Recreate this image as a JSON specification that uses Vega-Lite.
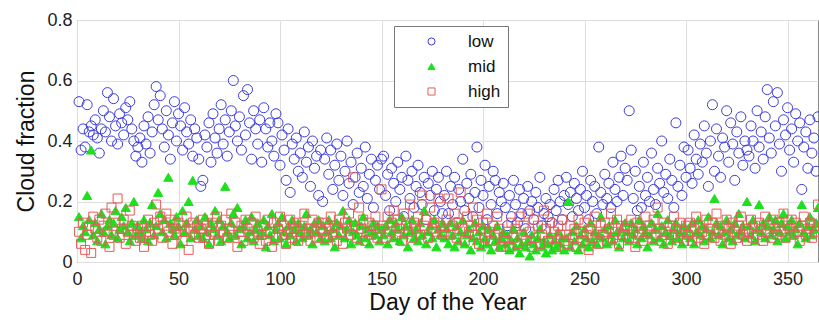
{
"$schema":"https://vega.github.io/schema/vega-lite/v6.json",
"autosize":{"type":"none"},
"padding":{"left":77,"top":20,"right":1,"bottom":60},
"width":741,"height":242,
"background":"white",
"config":{"font":"Liberation Sans","view":{"stroke":"#888888","strokeWidth":1},
"axis":{"labelFont":"Liberation Sans","titleFont":"Liberation Sans","labelColor":"#222","titleColor":"#111","labelFontSize":18,"titleFontSize":23,"titleFontWeight":"normal","grid":true,"gridColor":"#dedede","gridWidth":1,"ticks":false,"domain":false}},
"datasets":{
"low":[{"d":1,"v":0.53},{"d":2,"v":0.37},{"d":3,"v":0.44},{"d":4,"v":0.38},{"d":5,"v":0.52},{"d":6,"v":0.43},{"d":7,"v":0.45},{"d":8,"v":0.42},{"d":9,"v":0.47},{"d":10,"v":0.41},
{"d":11,"v":0.36},{"d":12,"v":0.44},{"d":13,"v":0.50},{"d":14,"v":0.43},{"d":15,"v":0.56},{"d":16,"v":0.48},{"d":17,"v":0.40},{"d":18,"v":0.54},{"d":19,"v":0.45},{"d":20,"v":0.39},
{"d":21,"v":0.49},{"d":22,"v":0.46},{"d":23,"v":0.42},{"d":24,"v":0.51},{"d":25,"v":0.47},{"d":26,"v":0.53},{"d":27,"v":0.44},{"d":28,"v":0.40},{"d":29,"v":0.35},{"d":30,"v":0.38},
{"d":31,"v":0.41},{"d":32,"v":0.33},{"d":33,"v":0.45},{"d":34,"v":0.39},{"d":35,"v":0.48},{"d":36,"v":0.36},{"d":37,"v":0.43},{"d":38,"v":0.52},{"d":39,"v":0.58},{"d":40,"v":0.47},
{"d":41,"v":0.55},{"d":42,"v":0.44},{"d":43,"v":0.38},{"d":44,"v":0.50},{"d":45,"v":0.42},{"d":46,"v":0.34},{"d":47,"v":0.46},{"d":48,"v":0.53},{"d":49,"v":0.40},{"d":50,"v":0.49},
{"d":51,"v":0.45},{"d":52,"v":0.37},{"d":53,"v":0.51},{"d":54,"v":0.43},{"d":55,"v":0.39},{"d":56,"v":0.47},{"d":57,"v":0.35},{"d":58,"v":0.44},{"d":59,"v":0.41},{"d":60,"v":0.34},
{"d":61,"v":0.25},{"d":62,"v":0.27},{"d":63,"v":0.42},{"d":64,"v":0.38},{"d":65,"v":0.46},{"d":66,"v":0.33},{"d":67,"v":0.49},{"d":68,"v":0.41},{"d":69,"v":0.36},{"d":70,"v":0.44},
{"d":71,"v":0.52},{"d":72,"v":0.39},{"d":73,"v":0.47},{"d":74,"v":0.35},{"d":75,"v":0.43},{"d":76,"v":0.50},{"d":77,"v":0.60},{"d":78,"v":0.45},{"d":79,"v":0.40},{"d":80,"v":0.48},
{"d":81,"v":0.37},{"d":82,"v":0.55},{"d":83,"v":0.42},{"d":84,"v":0.57},{"d":85,"v":0.46},{"d":86,"v":0.34},{"d":87,"v":0.50},{"d":88,"v":0.44},{"d":89,"v":0.39},{"d":90,"v":0.47},
{"d":91,"v":0.33},{"d":92,"v":0.51},{"d":93,"v":0.44},{"d":94,"v":0.38},{"d":95,"v":0.46},{"d":96,"v":0.40},{"d":97,"v":0.35},{"d":98,"v":0.49},{"d":99,"v":0.46},{"d":100,"v":0.32},
{"d":101,"v":0.42},{"d":102,"v":0.37},{"d":103,"v":0.27},{"d":104,"v":0.44},{"d":105,"v":0.23},{"d":106,"v":0.39},{"d":107,"v":0.34},{"d":108,"v":0.41},{"d":109,"v":0.30},{"d":110,"v":0.36},
{"d":111,"v":0.28},{"d":112,"v":0.43},{"d":113,"v":0.33},{"d":114,"v":0.38},{"d":115,"v":0.25},{"d":116,"v":0.40},{"d":117,"v":0.31},{"d":118,"v":0.35},{"d":119,"v":0.22},{"d":120,"v":0.37},
{"d":121,"v":0.20},{"d":122,"v":0.34},{"d":123,"v":0.41},{"d":124,"v":0.29},{"d":125,"v":0.37},{"d":126,"v":0.24},{"d":127,"v":0.32},{"d":128,"v":0.39},{"d":129,"v":0.27},{"d":130,"v":0.35},
{"d":131,"v":0.22},{"d":132,"v":0.30},{"d":133,"v":0.40},{"d":134,"v":0.26},{"d":135,"v":0.33},{"d":136,"v":0.19},{"d":137,"v":0.28},{"d":138,"v":0.36},{"d":139,"v":0.23},{"d":140,"v":0.31},
{"d":141,"v":0.25},{"d":142,"v":0.38},{"d":143,"v":0.21},{"d":144,"v":0.29},{"d":145,"v":0.34},{"d":146,"v":0.18},{"d":147,"v":0.27},{"d":148,"v":0.32},{"d":149,"v":0.24},{"d":150,"v":0.34},
{"d":151,"v":0.35},{"d":152,"v":0.22},{"d":153,"v":0.29},{"d":154,"v":0.17},{"d":155,"v":0.31},{"d":156,"v":0.26},{"d":157,"v":0.20},{"d":158,"v":0.33},{"d":159,"v":0.24},{"d":160,"v":0.28},
{"d":161,"v":0.15},{"d":162,"v":0.35},{"d":163,"v":0.27},{"d":164,"v":0.21},{"d":165,"v":0.30},{"d":166,"v":0.18},{"d":167,"v":0.25},{"d":168,"v":0.32},{"d":169,"v":0.23},{"d":170,"v":0.19},
{"d":171,"v":0.28},{"d":172,"v":0.14},{"d":173,"v":0.26},{"d":174,"v":0.22},{"d":175,"v":0.30},{"d":176,"v":0.17},{"d":177,"v":0.24},{"d":178,"v":0.28},{"d":179,"v":0.20},{"d":180,"v":0.16},
{"d":181,"v":0.22},{"d":182,"v":0.30},{"d":183,"v":0.16},{"d":184,"v":0.25},{"d":185,"v":0.19},{"d":186,"v":0.28},{"d":187,"v":0.13},{"d":188,"v":0.24},{"d":189,"v":0.20},{"d":190,"v":0.34},
{"d":191,"v":0.17},{"d":192,"v":0.26},{"d":193,"v":0.21},{"d":194,"v":0.29},{"d":195,"v":0.15},{"d":196,"v":0.23},{"d":197,"v":0.38},{"d":198,"v":0.18},{"d":199,"v":0.27},{"d":200,"v":0.22},
{"d":201,"v":0.32},{"d":202,"v":0.14},{"d":203,"v":0.25},{"d":204,"v":0.19},{"d":205,"v":0.30},{"d":206,"v":0.27},{"d":207,"v":0.16},{"d":208,"v":0.23},{"d":209,"v":0.20},{"d":210,"v":0.26},
{"d":211,"v":0.18},{"d":212,"v":0.12},{"d":213,"v":0.22},{"d":214,"v":0.15},{"d":215,"v":0.27},{"d":216,"v":0.19},{"d":217,"v":0.13},{"d":218,"v":0.24},{"d":219,"v":0.16},{"d":220,"v":0.21},
{"d":221,"v":0.11},{"d":222,"v":0.25},{"d":223,"v":0.17},{"d":224,"v":0.20},{"d":225,"v":0.14},{"d":226,"v":0.23},{"d":227,"v":0.18},{"d":228,"v":0.28},{"d":229,"v":0.12},{"d":230,"v":0.16},
{"d":231,"v":0.21},{"d":232,"v":0.15},{"d":233,"v":0.19},{"d":234,"v":0.13},{"d":235,"v":0.24},{"d":236,"v":0.17},{"d":237,"v":0.27},{"d":238,"v":0.20},{"d":239,"v":0.14},{"d":240,"v":0.22},
{"d":241,"v":0.28},{"d":242,"v":0.19},{"d":243,"v":0.23},{"d":244,"v":0.15},{"d":245,"v":0.26},{"d":246,"v":0.21},{"d":247,"v":0.17},{"d":248,"v":0.24},{"d":249,"v":0.30},{"d":250,"v":0.18},
{"d":251,"v":0.22},{"d":252,"v":0.14},{"d":253,"v":0.27},{"d":254,"v":0.20},{"d":255,"v":0.25},{"d":256,"v":0.16},{"d":257,"v":0.38},{"d":258,"v":0.23},{"d":259,"v":0.19},{"d":260,"v":0.29},
{"d":261,"v":0.21},{"d":262,"v":0.26},{"d":263,"v":0.18},{"d":264,"v":0.33},{"d":265,"v":0.24},{"d":266,"v":0.20},{"d":267,"v":0.28},{"d":268,"v":0.35},{"d":269,"v":0.22},{"d":270,"v":0.31},
{"d":271,"v":0.27},{"d":272,"v":0.50},{"d":273,"v":0.37},{"d":274,"v":0.21},{"d":275,"v":0.30},{"d":276,"v":0.17},{"d":277,"v":0.25},{"d":278,"v":0.18},{"d":279,"v":0.33},{"d":280,"v":0.22},
{"d":281,"v":0.28},{"d":282,"v":0.20},{"d":283,"v":0.36},{"d":284,"v":0.24},{"d":285,"v":0.19},{"d":286,"v":0.31},{"d":287,"v":0.26},{"d":288,"v":0.40},{"d":289,"v":0.23},{"d":290,"v":0.29},
{"d":291,"v":0.21},{"d":292,"v":0.34},{"d":293,"v":0.27},{"d":294,"v":0.18},{"d":295,"v":0.46},{"d":296,"v":0.25},{"d":297,"v":0.32},{"d":298,"v":0.22},{"d":299,"v":0.38},{"d":300,"v":0.28},
{"d":301,"v":0.37},{"d":302,"v":0.31},{"d":303,"v":0.26},{"d":304,"v":0.42},{"d":305,"v":0.34},{"d":306,"v":0.29},{"d":307,"v":0.39},{"d":308,"v":0.33},{"d":309,"v":0.45},{"d":310,"v":0.36},
{"d":311,"v":0.25},{"d":312,"v":0.40},{"d":313,"v":0.52},{"d":314,"v":0.30},{"d":315,"v":0.44},{"d":316,"v":0.35},{"d":317,"v":0.28},{"d":318,"v":0.41},{"d":319,"v":0.38},{"d":320,"v":0.50},
{"d":321,"v":0.33},{"d":322,"v":0.46},{"d":323,"v":0.39},{"d":324,"v":0.27},{"d":325,"v":0.43},{"d":326,"v":0.36},{"d":327,"v":0.48},{"d":328,"v":0.32},{"d":329,"v":0.40},{"d":330,"v":0.37},
{"d":331,"v":0.35},{"d":332,"v":0.45},{"d":333,"v":0.40},{"d":334,"v":0.31},{"d":335,"v":0.50},{"d":336,"v":0.38},{"d":337,"v":0.43},{"d":338,"v":0.34},{"d":339,"v":0.48},{"d":340,"v":0.57},
{"d":341,"v":0.41},{"d":342,"v":0.36},{"d":343,"v":0.53},{"d":344,"v":0.45},{"d":345,"v":0.56},{"d":346,"v":0.39},{"d":347,"v":0.30},{"d":348,"v":0.47},{"d":349,"v":0.42},{"d":350,"v":0.51},
{"d":351,"v":0.37},{"d":352,"v":0.44},{"d":353,"v":0.33},{"d":354,"v":0.49},{"d":355,"v":0.40},{"d":356,"v":0.46},{"d":357,"v":0.24},{"d":358,"v":0.38},{"d":359,"v":0.43},{"d":360,"v":0.31},
{"d":361,"v":0.47},{"d":362,"v":0.36},{"d":363,"v":0.41},{"d":364,"v":0.30},{"d":365,"v":0.48}],
"mid":[{"d":1,"v":0.15},{"d":2,"v":0.08},{"d":3,"v":0.12},{"d":4,"v":0.10},{"d":5,"v":0.22},{"d":6,"v":0.14},{"d":7,"v":0.37},{"d":8,"v":0.09},{"d":9,"v":0.13},{"d":10,"v":0.07},
{"d":11,"v":0.11},{"d":12,"v":0.16},{"d":13,"v":0.10},{"d":14,"v":0.06},{"d":15,"v":0.12},{"d":16,"v":0.14},{"d":17,"v":0.09},{"d":18,"v":0.13},{"d":19,"v":0.17},{"d":20,"v":0.08},
{"d":21,"v":0.11},{"d":22,"v":0.15},{"d":23,"v":0.12},{"d":24,"v":0.18},{"d":25,"v":0.10},{"d":26,"v":0.07},{"d":27,"v":0.13},{"d":28,"v":0.20},{"d":29,"v":0.09},{"d":30,"v":0.12},
{"d":31,"v":0.10},{"d":32,"v":0.08},{"d":33,"v":0.14},{"d":34,"v":0.11},{"d":35,"v":0.07},{"d":36,"v":0.13},{"d":37,"v":0.19},{"d":38,"v":0.09},{"d":39,"v":0.12},{"d":40,"v":0.23},
{"d":41,"v":0.16},{"d":42,"v":0.10},{"d":43,"v":0.14},{"d":44,"v":0.08},{"d":45,"v":0.28},{"d":46,"v":0.13},{"d":47,"v":0.11},{"d":48,"v":0.09},{"d":49,"v":0.15},{"d":50,"v":0.12},
{"d":51,"v":0.06},{"d":52,"v":0.17},{"d":53,"v":0.10},{"d":54,"v":0.13},{"d":55,"v":0.20},{"d":56,"v":0.08},{"d":57,"v":0.27},{"d":58,"v":0.11},{"d":59,"v":0.14},{"d":60,"v":0.09},
{"d":61,"v":0.12},{"d":62,"v":0.08},{"d":63,"v":0.15},{"d":64,"v":0.10},{"d":65,"v":0.06},{"d":66,"v":0.13},{"d":67,"v":0.11},{"d":68,"v":0.17},{"d":69,"v":0.09},{"d":70,"v":0.14},
{"d":71,"v":0.07},{"d":72,"v":0.12},{"d":73,"v":0.25},{"d":74,"v":0.10},{"d":75,"v":0.08},{"d":76,"v":0.13},{"d":77,"v":0.16},{"d":78,"v":0.09},{"d":79,"v":0.18},{"d":80,"v":0.11},
{"d":81,"v":0.06},{"d":82,"v":0.12},{"d":83,"v":0.14},{"d":84,"v":0.08},{"d":85,"v":0.10},{"d":86,"v":0.15},{"d":87,"v":0.07},{"d":88,"v":0.11},{"d":89,"v":0.13},{"d":90,"v":0.09},
{"d":91,"v":0.10},{"d":92,"v":0.14},{"d":93,"v":0.05},{"d":94,"v":0.12},{"d":95,"v":0.09},{"d":96,"v":0.16},{"d":97,"v":0.07},{"d":98,"v":0.11},{"d":99,"v":0.13},{"d":100,"v":0.08},
{"d":101,"v":0.15},{"d":102,"v":0.10},{"d":103,"v":0.06},{"d":104,"v":0.12},{"d":105,"v":0.09},{"d":106,"v":0.14},{"d":107,"v":0.11},{"d":108,"v":0.07},{"d":109,"v":0.13},{"d":110,"v":0.10},
{"d":111,"v":0.08},{"d":112,"v":0.12},{"d":113,"v":0.16},{"d":114,"v":0.09},{"d":115,"v":0.11},{"d":116,"v":0.06},{"d":117,"v":0.13},{"d":118,"v":0.10},{"d":119,"v":0.14},{"d":120,"v":0.08},
{"d":121,"v":0.12},{"d":122,"v":0.07},{"d":123,"v":0.10},{"d":124,"v":0.14},{"d":125,"v":0.08},{"d":126,"v":0.11},{"d":127,"v":0.05},{"d":128,"v":0.13},{"d":129,"v":0.09},{"d":130,"v":0.12},
{"d":131,"v":0.17},{"d":132,"v":0.08},{"d":133,"v":0.11},{"d":134,"v":0.14},{"d":135,"v":0.06},{"d":136,"v":0.10},{"d":137,"v":0.13},{"d":138,"v":0.09},{"d":139,"v":0.07},{"d":140,"v":0.12},
{"d":141,"v":0.15},{"d":142,"v":0.08},{"d":143,"v":0.11},{"d":144,"v":0.06},{"d":145,"v":0.10},{"d":146,"v":0.13},{"d":147,"v":0.09},{"d":148,"v":0.12},{"d":149,"v":0.07},{"d":150,"v":0.11},
{"d":151,"v":0.09},{"d":152,"v":0.12},{"d":153,"v":0.06},{"d":154,"v":0.14},{"d":155,"v":0.10},{"d":156,"v":0.08},{"d":157,"v":0.13},{"d":158,"v":0.11},{"d":159,"v":0.07},{"d":160,"v":0.15},
{"d":161,"v":0.09},{"d":162,"v":0.12},{"d":163,"v":0.05},{"d":164,"v":0.10},{"d":165,"v":0.14},{"d":166,"v":0.08},{"d":167,"v":0.11},{"d":168,"v":0.07},{"d":169,"v":0.13},{"d":170,"v":0.09},
{"d":171,"v":0.17},{"d":172,"v":0.06},{"d":173,"v":0.10},{"d":174,"v":0.12},{"d":175,"v":0.08},{"d":176,"v":0.14},{"d":177,"v":0.05},{"d":178,"v":0.11},{"d":179,"v":0.09},{"d":180,"v":0.13},
{"d":181,"v":0.08},{"d":182,"v":0.11},{"d":183,"v":0.06},{"d":184,"v":0.13},{"d":185,"v":0.09},{"d":186,"v":0.05},{"d":187,"v":0.12},{"d":188,"v":0.07},{"d":189,"v":0.10},{"d":190,"v":0.14},
{"d":191,"v":0.06},{"d":192,"v":0.09},{"d":193,"v":0.11},{"d":194,"v":0.04},{"d":195,"v":0.08},{"d":196,"v":0.13},{"d":197,"v":0.07},{"d":198,"v":0.10},{"d":199,"v":0.05},{"d":200,"v":0.12},
{"d":201,"v":0.08},{"d":202,"v":0.06},{"d":203,"v":0.11},{"d":204,"v":0.04},{"d":205,"v":0.09},{"d":206,"v":0.07},{"d":207,"v":0.12},{"d":208,"v":0.05},{"d":209,"v":0.08},{"d":210,"v":0.10},
{"d":211,"v":0.06},{"d":212,"v":0.09},{"d":213,"v":0.04},{"d":214,"v":0.07},{"d":215,"v":0.11},{"d":216,"v":0.05},{"d":217,"v":0.08},{"d":218,"v":0.03},{"d":219,"v":0.06},{"d":220,"v":0.10},
{"d":221,"v":0.05},{"d":222,"v":0.07},{"d":223,"v":0.02},{"d":224,"v":0.09},{"d":225,"v":0.06},{"d":226,"v":0.04},{"d":227,"v":0.08},{"d":228,"v":0.11},{"d":229,"v":0.05},{"d":230,"v":0.07},
{"d":231,"v":0.03},{"d":232,"v":0.06},{"d":233,"v":0.09},{"d":234,"v":0.04},{"d":235,"v":0.07},{"d":236,"v":0.05},{"d":237,"v":0.10},{"d":238,"v":0.06},{"d":239,"v":0.08},{"d":240,"v":0.04},
{"d":241,"v":0.08},{"d":242,"v":0.20},{"d":243,"v":0.05},{"d":244,"v":0.10},{"d":245,"v":0.07},{"d":246,"v":0.12},{"d":247,"v":0.04},{"d":248,"v":0.09},{"d":249,"v":0.06},{"d":250,"v":0.11},
{"d":251,"v":0.08},{"d":252,"v":0.05},{"d":253,"v":0.13},{"d":254,"v":0.07},{"d":255,"v":0.10},{"d":256,"v":0.06},{"d":257,"v":0.09},{"d":258,"v":0.15},{"d":259,"v":0.08},{"d":260,"v":0.11},
{"d":261,"v":0.06},{"d":262,"v":0.12},{"d":263,"v":0.09},{"d":264,"v":0.07},{"d":265,"v":0.14},{"d":266,"v":0.10},{"d":267,"v":0.05},{"d":268,"v":0.11},{"d":269,"v":0.08},{"d":270,"v":0.13},
{"d":271,"v":0.10},{"d":272,"v":0.07},{"d":273,"v":0.13},{"d":274,"v":0.09},{"d":275,"v":0.11},{"d":276,"v":0.06},{"d":277,"v":0.14},{"d":278,"v":0.08},{"d":279,"v":0.12},{"d":280,"v":0.10},
{"d":281,"v":0.05},{"d":282,"v":0.09},{"d":283,"v":0.13},{"d":284,"v":0.07},{"d":285,"v":0.11},{"d":286,"v":0.16},{"d":287,"v":0.08},{"d":288,"v":0.12},{"d":289,"v":0.06},{"d":290,"v":0.10},
{"d":291,"v":0.14},{"d":292,"v":0.09},{"d":293,"v":0.07},{"d":294,"v":0.11},{"d":295,"v":0.13},{"d":296,"v":0.08},{"d":297,"v":0.10},{"d":298,"v":0.06},{"d":299,"v":0.12},{"d":300,"v":0.09},
{"d":301,"v":0.11},{"d":302,"v":0.08},{"d":303,"v":0.13},{"d":304,"v":0.06},{"d":305,"v":0.10},{"d":306,"v":0.14},{"d":307,"v":0.09},{"d":308,"v":0.12},{"d":309,"v":0.07},{"d":310,"v":0.11},
{"d":311,"v":0.15},{"d":312,"v":0.08},{"d":313,"v":0.10},{"d":314,"v":0.21},{"d":315,"v":0.13},{"d":316,"v":0.09},{"d":317,"v":0.12},{"d":318,"v":0.06},{"d":319,"v":0.10},{"d":320,"v":0.14},
{"d":321,"v":0.08},{"d":322,"v":0.11},{"d":323,"v":0.07},{"d":324,"v":0.13},{"d":325,"v":0.09},{"d":326,"v":0.16},{"d":327,"v":0.10},{"d":328,"v":0.12},{"d":329,"v":0.08},{"d":330,"v":0.20},
{"d":331,"v":0.12},{"d":332,"v":0.09},{"d":333,"v":0.14},{"d":334,"v":0.07},{"d":335,"v":0.11},{"d":336,"v":0.19},{"d":337,"v":0.10},{"d":338,"v":0.13},{"d":339,"v":0.08},{"d":340,"v":0.12},
{"d":341,"v":0.15},{"d":342,"v":0.09},{"d":343,"v":0.11},{"d":344,"v":0.14},{"d":345,"v":0.07},{"d":346,"v":0.10},{"d":347,"v":0.13},{"d":348,"v":0.16},{"d":349,"v":0.08},{"d":350,"v":0.12},
{"d":351,"v":0.10},{"d":352,"v":0.14},{"d":353,"v":0.09},{"d":354,"v":0.11},{"d":355,"v":0.06},{"d":356,"v":0.13},{"d":357,"v":0.19},{"d":358,"v":0.10},{"d":359,"v":0.08},{"d":360,"v":0.12},
{"d":361,"v":0.15},{"d":362,"v":0.09},{"d":363,"v":0.11},{"d":364,"v":0.13},{"d":365,"v":0.18}],
"high":[{"d":1,"v":0.10},{"d":2,"v":0.06},{"d":3,"v":0.13},{"d":4,"v":0.04},{"d":5,"v":0.09},{"d":6,"v":0.12},{"d":7,"v":0.03},{"d":8,"v":0.15},{"d":9,"v":0.11},{"d":10,"v":0.08},
{"d":11,"v":0.14},{"d":12,"v":0.07},{"d":13,"v":0.12},{"d":14,"v":0.16},{"d":15,"v":0.10},{"d":16,"v":0.05},{"d":17,"v":0.18},{"d":18,"v":0.09},{"d":19,"v":0.13},{"d":20,"v":0.21},
{"d":21,"v":0.08},{"d":22,"v":0.11},{"d":23,"v":0.14},{"d":24,"v":0.06},{"d":25,"v":0.10},{"d":26,"v":0.17},{"d":27,"v":0.12},{"d":28,"v":0.09},{"d":29,"v":0.07},{"d":30,"v":0.11},
{"d":31,"v":0.08},{"d":32,"v":0.12},{"d":33,"v":0.05},{"d":34,"v":0.10},{"d":35,"v":0.14},{"d":36,"v":0.09},{"d":37,"v":0.07},{"d":38,"v":0.13},{"d":39,"v":0.19},{"d":40,"v":0.11},
{"d":41,"v":0.15},{"d":42,"v":0.08},{"d":43,"v":0.12},{"d":44,"v":0.16},{"d":45,"v":0.10},{"d":46,"v":0.14},{"d":47,"v":0.06},{"d":48,"v":0.11},{"d":49,"v":0.09},{"d":50,"v":0.13},
{"d":51,"v":0.12},{"d":52,"v":0.07},{"d":53,"v":0.10},{"d":54,"v":0.15},{"d":55,"v":0.04},{"d":56,"v":0.11},{"d":57,"v":0.13},{"d":58,"v":0.09},{"d":59,"v":0.12},{"d":60,"v":0.08},
{"d":61,"v":0.11},{"d":62,"v":0.14},{"d":63,"v":0.08},{"d":64,"v":0.12},{"d":65,"v":0.06},{"d":66,"v":0.10},{"d":67,"v":0.13},{"d":68,"v":0.09},{"d":69,"v":0.15},{"d":70,"v":0.07},
{"d":71,"v":0.12},{"d":72,"v":0.10},{"d":73,"v":0.14},{"d":74,"v":0.08},{"d":75,"v":0.11},{"d":76,"v":0.16},{"d":77,"v":0.09},{"d":78,"v":0.13},{"d":79,"v":0.05},{"d":80,"v":0.10},
{"d":81,"v":0.12},{"d":82,"v":0.07},{"d":83,"v":0.14},{"d":84,"v":0.11},{"d":85,"v":0.09},{"d":86,"v":0.13},{"d":87,"v":0.08},{"d":88,"v":0.15},{"d":89,"v":0.10},{"d":90,"v":0.06},
{"d":91,"v":0.09},{"d":92,"v":0.12},{"d":93,"v":0.07},{"d":94,"v":0.14},{"d":95,"v":0.10},{"d":96,"v":0.05},{"d":97,"v":0.13},{"d":98,"v":0.08},{"d":99,"v":0.11},{"d":100,"v":0.15},
{"d":101,"v":0.09},{"d":102,"v":0.12},{"d":103,"v":0.06},{"d":104,"v":0.10},{"d":105,"v":0.14},{"d":106,"v":0.08},{"d":107,"v":0.11},{"d":108,"v":0.13},{"d":109,"v":0.07},{"d":110,"v":0.10},
{"d":111,"v":0.12},{"d":112,"v":0.16},{"d":113,"v":0.09},{"d":114,"v":0.11},{"d":115,"v":0.07},{"d":116,"v":0.14},{"d":117,"v":0.10},{"d":118,"v":0.08},{"d":119,"v":0.13},{"d":120,"v":0.11},
{"d":121,"v":0.10},{"d":122,"v":0.13},{"d":123,"v":0.08},{"d":124,"v":0.11},{"d":125,"v":0.15},{"d":126,"v":0.09},{"d":127,"v":0.12},{"d":128,"v":0.07},{"d":129,"v":0.14},{"d":130,"v":0.10},
{"d":131,"v":0.06},{"d":132,"v":0.13},{"d":133,"v":0.11},{"d":134,"v":0.16},{"d":135,"v":0.09},{"d":136,"v":0.28},{"d":137,"v":0.12},{"d":138,"v":0.08},{"d":139,"v":0.18},{"d":140,"v":0.11},
{"d":141,"v":0.14},{"d":142,"v":0.07},{"d":143,"v":0.10},{"d":144,"v":0.13},{"d":145,"v":0.09},{"d":146,"v":0.12},{"d":147,"v":0.15},{"d":148,"v":0.08},{"d":149,"v":0.11},{"d":150,"v":0.24},
{"d":151,"v":0.12},{"d":152,"v":0.08},{"d":153,"v":0.15},{"d":154,"v":0.10},{"d":155,"v":0.13},{"d":156,"v":0.17},{"d":157,"v":0.09},{"d":158,"v":0.14},{"d":159,"v":0.11},{"d":160,"v":0.07},
{"d":161,"v":0.16},{"d":162,"v":0.12},{"d":163,"v":0.10},{"d":164,"v":0.19},{"d":165,"v":0.08},{"d":166,"v":0.13},{"d":167,"v":0.11},{"d":168,"v":0.15},{"d":169,"v":0.09},{"d":170,"v":0.22},
{"d":171,"v":0.12},{"d":172,"v":0.14},{"d":173,"v":0.08},{"d":174,"v":0.18},{"d":175,"v":0.11},{"d":176,"v":0.13},{"d":177,"v":0.10},{"d":178,"v":0.21},{"d":179,"v":0.12},{"d":180,"v":0.09},
{"d":181,"v":0.10},{"d":182,"v":0.14},{"d":183,"v":0.21},{"d":184,"v":0.09},{"d":185,"v":0.12},{"d":186,"v":0.16},{"d":187,"v":0.08},{"d":188,"v":0.13},{"d":189,"v":0.23},{"d":190,"v":0.11},
{"d":191,"v":0.07},{"d":192,"v":0.15},{"d":193,"v":0.10},{"d":194,"v":0.12},{"d":195,"v":0.18},{"d":196,"v":0.09},{"d":197,"v":0.14},{"d":198,"v":0.06},{"d":199,"v":0.11},{"d":200,"v":0.13},
{"d":201,"v":0.08},{"d":202,"v":0.16},{"d":203,"v":0.10},{"d":204,"v":0.07},{"d":205,"v":0.12},{"d":206,"v":0.09},{"d":207,"v":0.15},{"d":208,"v":0.11},{"d":209,"v":0.05},{"d":210,"v":0.08},
{"d":211,"v":0.07},{"d":212,"v":0.10},{"d":213,"v":0.05},{"d":214,"v":0.13},{"d":215,"v":0.08},{"d":216,"v":0.11},{"d":217,"v":0.06},{"d":218,"v":0.15},{"d":219,"v":0.09},{"d":220,"v":0.12},
{"d":221,"v":0.07},{"d":222,"v":0.16},{"d":223,"v":0.10},{"d":224,"v":0.05},{"d":225,"v":0.14},{"d":226,"v":0.08},{"d":227,"v":0.12},{"d":228,"v":0.06},{"d":229,"v":0.09},{"d":230,"v":0.17},
{"d":231,"v":0.11},{"d":232,"v":0.07},{"d":233,"v":0.13},{"d":234,"v":0.08},{"d":235,"v":0.10},{"d":236,"v":0.05},{"d":237,"v":0.12},{"d":238,"v":0.09},{"d":239,"v":0.14},{"d":240,"v":0.07},
{"d":241,"v":0.09},{"d":242,"v":0.06},{"d":243,"v":0.12},{"d":244,"v":0.08},{"d":245,"v":0.11},{"d":246,"v":0.05},{"d":247,"v":0.14},{"d":248,"v":0.10},{"d":249,"v":0.07},{"d":250,"v":0.13},
{"d":251,"v":0.09},{"d":252,"v":0.04},{"d":253,"v":0.11},{"d":254,"v":0.08},{"d":255,"v":0.15},{"d":256,"v":0.10},{"d":257,"v":0.06},{"d":258,"v":0.12},{"d":259,"v":0.09},{"d":260,"v":0.13},
{"d":261,"v":0.07},{"d":262,"v":0.11},{"d":263,"v":0.16},{"d":264,"v":0.08},{"d":265,"v":0.10},{"d":266,"v":0.14},{"d":267,"v":0.06},{"d":268,"v":0.12},{"d":269,"v":0.09},{"d":270,"v":0.11},
{"d":271,"v":0.12},{"d":272,"v":0.08},{"d":273,"v":0.14},{"d":274,"v":0.10},{"d":275,"v":0.05},{"d":276,"v":0.13},{"d":277,"v":0.09},{"d":278,"v":0.11},{"d":279,"v":0.07},{"d":280,"v":0.15},
{"d":281,"v":0.10},{"d":282,"v":0.12},{"d":283,"v":0.08},{"d":284,"v":0.14},{"d":285,"v":0.09},{"d":286,"v":0.18},{"d":287,"v":0.11},{"d":288,"v":0.07},{"d":289,"v":0.13},{"d":290,"v":0.10},
{"d":291,"v":0.06},{"d":292,"v":0.12},{"d":293,"v":0.09},{"d":294,"v":0.15},{"d":295,"v":0.11},{"d":296,"v":0.08},{"d":297,"v":0.13},{"d":298,"v":0.10},{"d":299,"v":0.07},{"d":300,"v":0.12},
{"d":301,"v":0.09},{"d":302,"v":0.13},{"d":303,"v":0.07},{"d":304,"v":0.11},{"d":305,"v":0.15},{"d":306,"v":0.08},{"d":307,"v":0.12},{"d":308,"v":0.10},{"d":309,"v":0.06},{"d":310,"v":0.14},
{"d":311,"v":0.09},{"d":312,"v":0.11},{"d":313,"v":0.13},{"d":314,"v":0.08},{"d":315,"v":0.16},{"d":316,"v":0.10},{"d":317,"v":0.07},{"d":318,"v":0.12},{"d":319,"v":0.09},{"d":320,"v":0.14},
{"d":321,"v":0.11},{"d":322,"v":0.06},{"d":323,"v":0.13},{"d":324,"v":0.10},{"d":325,"v":0.08},{"d":326,"v":0.12},{"d":327,"v":0.15},{"d":328,"v":0.09},{"d":329,"v":0.11},{"d":330,"v":0.07},
{"d":331,"v":0.10},{"d":332,"v":0.14},{"d":333,"v":0.08},{"d":334,"v":0.12},{"d":335,"v":0.09},{"d":336,"v":0.13},{"d":337,"v":0.11},{"d":338,"v":0.07},{"d":339,"v":0.15},{"d":340,"v":0.10},
{"d":341,"v":0.12},{"d":342,"v":0.08},{"d":343,"v":0.14},{"d":344,"v":0.11},{"d":345,"v":0.09},{"d":346,"v":0.13},{"d":347,"v":0.10},{"d":348,"v":0.16},{"d":349,"v":0.08},{"d":350,"v":0.12},
{"d":351,"v":0.11},{"d":352,"v":0.14},{"d":353,"v":0.09},{"d":354,"v":0.13},{"d":355,"v":0.10},{"d":356,"v":0.07},{"d":357,"v":0.12},{"d":358,"v":0.15},{"d":359,"v":0.09},{"d":360,"v":0.11},
{"d":361,"v":0.13},{"d":362,"v":0.08},{"d":363,"v":0.12},{"d":364,"v":0.10},{"d":365,"v":0.19}]
},
"encoding":{
"x":{"field":"d","type":"quantitative","scale":{"domain":[0,365],"nice":false,"zero":false},"axis":{"values":[0,50,100,150,200,250,300,350],"title":"Day of the Year","labelPadding":8,"titlePadding":3,"labelFlush":false}},
"y":{"field":"v","type":"quantitative","scale":{"domain":[0,0.8],"nice":false},"axis":{"values":[0,0.2,0.4,0.6,0.8],"format":"~g","title":"Cloud fraction","labelPadding":5,"titlePadding":8}}
},
"layer":[
{"data":{"name":"low"},"mark":{"type":"point","filled":true,"strokeWidth":1,"size":100,"opacity":1},
 "encoding":{"shape":{"datum":"low","type":"nominal","scale":{"domain":["low","mid","high"],"range":["circle","triangle-up","square"]},"legend":{"orient":"none","legendX":317,"legendY":6,"title":null,"padding":7,"strokeColor":"#777777","fillColor":"white","symbolOffset":22,"labelOffset":28,"labelFontSize":17,"labelFont":"Liberation Sans","labelColor":"#111","rowPadding":7,"symbolSize":50,"symbolStrokeWidth":1,"cornerRadius":0}},
  "fill":{"datum":"low","type":"nominal","scale":{"domain":["low","mid","high"],"range":["transparent","#1ee01e","transparent"]},"legend":{"orient":"none","legendX":317,"legendY":6,"title":null}},
  "stroke":{"datum":"low","type":"nominal","scale":{"domain":["low","mid","high"],"range":["#3c3cdc","#1ee01e","#e85a5a"]},"legend":{"orient":"none","legendX":317,"legendY":6,"title":null}}}},
{"data":{"name":"mid"},"mark":{"type":"point","filled":true,"strokeWidth":1,"size":85,"opacity":1},
 "encoding":{"shape":{"datum":"mid","type":"nominal"},"fill":{"datum":"mid","type":"nominal"},"stroke":{"datum":"mid","type":"nominal"}}},
{"data":{"name":"high"},"mark":{"type":"point","filled":true,"strokeWidth":1,"size":80,"opacity":1},
 "encoding":{"shape":{"datum":"high","type":"nominal"},"fill":{"datum":"high","type":"nominal"},"stroke":{"datum":"high","type":"nominal"}}}
]
}
